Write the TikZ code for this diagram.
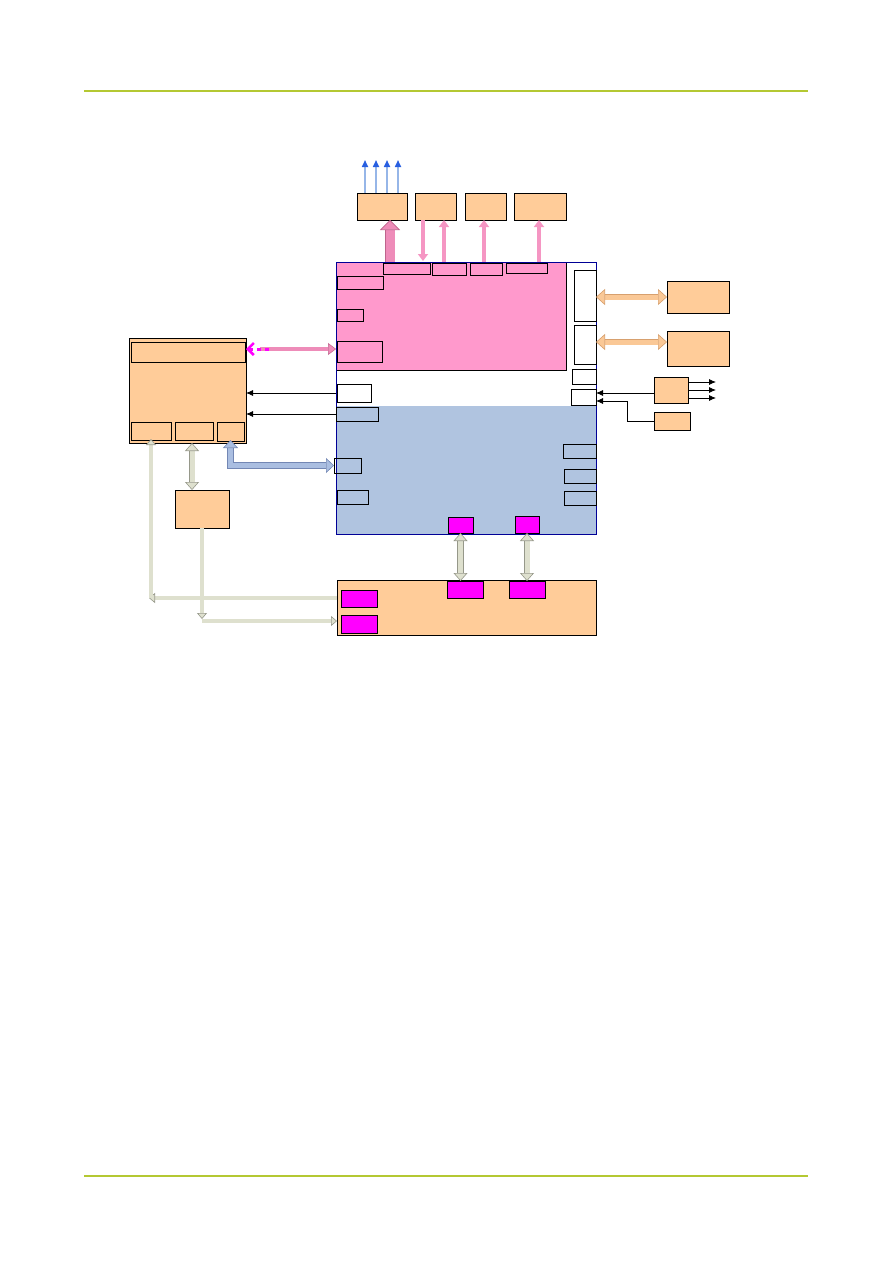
\documentclass[tikz,border=0pt]{standalone}
\usetikzlibrary{arrows.meta}
\definecolor{orfill}{RGB}{255,204,153}
\definecolor{pkfill}{RGB}{255,153,204}
\definecolor{blfill}{RGB}{176,196,224}
\definecolor{mgfill}{RGB}{255,0,255}
\definecolor{chipblue}{RGB}{0,0,150}
\definecolor{hdr}{RGB}{180,200,50}
\definecolor{pkarrow}{RGB}{245,150,195}
\definecolor{pkbig}{RGB}{238,140,185}
\definecolor{pkline}{RGB}{190,100,140}
\definecolor{orarr}{RGB}{250,200,150}
\definecolor{orline}{RGB}{215,160,110}
\definecolor{gyfill}{RGB}{222,224,206}
\definecolor{gyline}{RGB}{150,152,138}
\definecolor{blarr}{RGB}{170,190,225}
\definecolor{blline}{RGB}{115,135,180}
\definecolor{upshaft}{RGB}{150,182,232}
\definecolor{uptip}{RGB}{40,95,225}
\newcommand\mybox[5]{\node[#1,minimum width=#4,minimum height=#5] (#2) at (#3) {};}
\begin{document}
\begin{tikzpicture}[x=1pt,y=-1pt,
  box/.style={draw=black,line width=0.8pt,anchor=north west,inner sep=0pt,outer sep=0pt},
  obox/.style={box,fill=orfill},
  wbox/.style={box,fill=white},
  mbox/.style={box,fill=mgfill},
  ebox/.style={box},
  blackarr/.style={draw=black,line width=0.8pt,-{Latex[length=7pt,width=6pt]}},
  uparr/.style={draw=upshaft,line width=1.6pt,-{Triangle[length=7pt,width=6pt,fill=uptip,color=uptip]}},
  pinkarr/.style={draw=pkarrow,line width=3.5pt,-{Triangle[width=10pt,length=7pt]}},
  bigpink/.style={draw=pkbig,line width=9pt,-{Triangle[width=20pt,length=10pt,fill=pkbig,color=pkline,line width=0.6pt]},
     preaction={draw=pkline,line width=10.2pt,arrows=-,shorten >=10pt}},
  orange2/.style={draw=orarr,line width=5pt,{Triangle[width=16pt,length=9pt,fill=orarr,color=orline,line width=0.6pt]}-{Triangle[width=16pt,length=9pt,fill=orarr,color=orline,line width=0.6pt]},
     preaction={draw=orline,line width=6.2pt,arrows=-,shorten >=9pt,shorten <=9pt}},
  gray2/.style={draw=gyfill,line width=5pt,{Triangle[width=14pt,length=8pt,fill=gyfill,color=gyline,line width=0.6pt]}-{Triangle[width=14pt,length=8pt,fill=gyfill,color=gyline,line width=0.6pt]},
     preaction={draw=gyline,line width=6.2pt,arrows=-,shorten >=8pt,shorten <=8pt}},
  gray1/.style={draw=gyfill,line width=3.5pt,-{Triangle[width=10pt,length=6pt,fill=gyfill,color=gyline,line width=0.6pt]},
     preaction={draw=gyline,line width=4.6pt,arrows=-,shorten >=6pt}},
  blue2/.style={draw=blarr,line width=5.5pt,{Triangle[width=15pt,length=8pt,fill=blarr,color=blline,line width=0.6pt]}-{Triangle[width=15pt,length=8pt,fill=blarr,color=blline,line width=0.6pt]},
     preaction={draw=blline,line width=6.7pt,arrows=-,shorten >=8pt,shorten <=8pt}},
  hline/.style={draw=hdr,line width=1.6pt}
]
\useasboundingbox (0,0) rectangle (893,1263);
% header / footer rules
\coordinate (h1) at (84,91); \coordinate (h2) at (808,91);
\coordinate (f1) at (84,1176); \coordinate (f2) at (808,1176);
\draw[hline] (h1) -- (h2);
\draw[hline,line width=2.2pt] (f1) -- (f2);

% chip
\node[anchor=north west,inner sep=0pt,outer sep=0pt,minimum width=260,minimum height=128,fill=blfill] (bluereg) at (336,406) {};
\mybox{box,fill=pkfill}{pinkreg}{336,262}{230}{108}
\node[anchor=north west,inner sep=0pt,outer sep=0pt,minimum width=260,minimum height=272,draw=chipblue,line width=0.8pt] (chip) at (336,262) {};

\mybox{ebox}{p1}{383,263}{47}{11}
\mybox{ebox}{p2}{432,263}{34}{12}
\mybox{ebox}{p3}{470,263}{32}{12}
\mybox{ebox}{p4}{506,263}{41}{10}
\mybox{ebox}{p5}{337,276}{46}{13}
\mybox{ebox}{p6}{337,309}{26}{12}
\mybox{ebox}{p7}{337,341}{45}{21}
\mybox{wbox}{r1}{574,270}{22}{51}
\mybox{wbox}{r2}{574,325}{22}{39}
\mybox{wbox}{r3}{572,369}{24}{15}
\mybox{wbox}{r4}{571,389}{25}{16}
\mybox{wbox}{w1}{337,384}{34}{18}
\mybox{ebox}{b1}{336,407}{42}{14}
\mybox{ebox}{b2}{334,458}{27}{15}
\mybox{ebox}{b3}{337,490}{31}{14}
\mybox{ebox}{b4}{563,444}{33}{14}
\mybox{ebox}{b5}{564,469}{32}{14}
\mybox{ebox}{b6}{564,491}{32}{14}
\mybox{mbox}{m1}{448,517}{25}{16}
\mybox{mbox}{m2}{515,516}{24}{17}

% top boxes
\mybox{obox}{t1}{357,193}{50}{27}
\mybox{obox}{t2}{415,193}{41}{27}
\mybox{obox}{t3}{465,193}{41}{27}
\mybox{obox}{t4}{514,193}{52}{27}

% left block
\mybox{obox}{L}{129,338}{117}{105}
\mybox{ebox}{L0}{131,342}{114}{20}
\mybox{ebox}{La}{131,422}{40}{18}
\mybox{ebox}{Lb}{175,422}{38}{18}
\mybox{ebox}{Lc}{217,422}{27}{19}
\mybox{obox}{S}{175,490}{54}{38}

% bottom block
\mybox{obox}{B}{337,580}{259}{55}
\mybox{mbox}{Bm1}{341,590}{36}{17}
\mybox{mbox}{Bm2}{341,615}{36}{18}
\mybox{mbox}{Bm3}{447,581}{36}{17}
\mybox{mbox}{Bm4}{509,581}{36}{17}

% right blocks
\mybox{obox}{R1}{667,281}{62}{32}
\mybox{obox}{R2}{667,331}{62}{35}
\mybox{obox}{R3}{654,377}{34}{26}
\mybox{obox}{R4}{654,412}{36}{18}

% blue up arrows
\foreach \dx/\n in {-17/1,-6/2,5/3,16/4}{
  \coordinate (u\n) at ([xshift=\dx pt]t1.north |- 0,160);
  \draw[uparr] ([xshift=\dx pt]t1.north) -- (u\n);
}
% pink arrows
\draw[bigpink] ([xshift=8pt]t1.south |- chip.north) -- ([xshift=8pt]t1.south);
\draw[pinkarr] ([xshift=-12.5pt]t2.south) -- ([xshift=-12.5pt]t2.south |- 0,261);
\draw[pinkarr] ([xshift=8.5pt]t2.south |- chip.north) -- ([xshift=8.5pt]t2.south);
\draw[pinkarr] ([xshift=-1.5pt]t3.south |- chip.north) -- ([xshift=-1.5pt]t3.south);
\draw[pinkarr] ([xshift=-1pt]t4.south |- chip.north) -- ([xshift=-1pt]t4.south);

% left link (pink / magenta)
\draw[draw=pkbig,line width=4pt,-{Triangle[width=12pt,length=8pt,fill=pkbig,color=pkline,line width=0.5pt]}] ([xshift=14pt]L.east |- 0,349) -- (chip.west |- 0,349);
\draw[draw=mgfill,line width=3pt,dash pattern=on 4pt off 4pt,{Straight Barb[length=6pt,width=12pt,line width=2.5pt]}-] (L.east |- 0,349) -- ([xshift=24pt]L.east |- 0,349);

% black arrows from chip to left block
\draw[blackarr] (chip.west |- 0,393) -- (L.east |- 0,393);
\draw[blackarr] (chip.west |- 0,414) -- (L.east |- 0,414);

% blue L connector
\draw[blue2] ([yshift=1pt]Lc.south) |- (b2.west);

% gray connectors
\draw[gray2] ([xshift=-2pt]Lb.south |- L.south) -- ([xshift=-2pt]Lb.south |- S.north);
\draw[gray2] (m1.south) -- (m1.south |- Bm3.north);
\draw[gray2] (m2.south) -- (m2.south |- Bm4.north);
\coordinate (c1) at (La.south |- 0,598);
\draw[gray1] (B.west |- c1) -- ([xshift=-2pt]c1);
\draw[gray1] (c1) -- ([yshift=1pt]La.south);
\coordinate (c2) at (S.south |- 0,621);
\draw[gray1] (S.south) -- ([yshift=2pt]c2);
\draw[gray1] (c2) -- (B.west |- c2);

% orange links
\draw[orange2] (chip.east |- R1.west) -- (R1.west);
\draw[orange2] (chip.east |- 0,342) -- (R2.west |- 0,342);

% R3 outputs
\foreach \yy/\n in {382/1,390/2,398/3}{
  \coordinate (o\n) at (716,\yy);
  \draw[blackarr] (R3.east |- o\n) -- (o\n);
}
\draw[blackarr] (R3.west |- 0,393) -- (chip.east |- 0,393);
\draw[blackarr] (R4.west) -- (627,421) |- (chip.east |- 0,401);
\end{tikzpicture}
\end{document}
